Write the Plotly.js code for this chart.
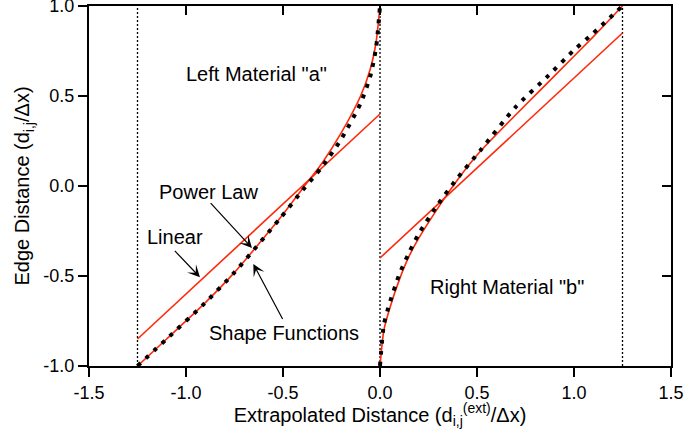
<!DOCTYPE html>
<html>
<head>
<meta charset="utf-8">
<script src="https://cdn.plot.ly/plotly-3.0.1.min.js"></script>
<style>html,body{margin:0;padding:0;background:#fff;}#chart{width:685px;height:429px;}</style>
</head>
<body>
<div id="chart"></div>
<script>
// ---- data ----
const leftLinearX = [-1.25, 0];
const leftLinearY = [-0.85, 0.40];
const rightLinearX = [0, 1.25];
const rightLinearY = [-0.40, 0.85];

const leftPowerX = [-1.25, -1.1, -0.907, -0.75, -0.515, -0.4, -0.3, -0.2, -0.1, -0.05, -0.02, 0];
const leftPowerY = [-1.0, -0.85, -0.655, -0.48, -0.178, -0.015, 0.125, 0.295, 0.50, 0.65, 0.80, 1.0];
const rightPowerX = [0, 0.02, 0.05, 0.1, 0.15, 0.2, 0.3, 0.4, 0.515, 0.75, 0.907, 1.1, 1.25];
const rightPowerY = [-1.0, -0.80, -0.68, -0.52, -0.39, -0.29, -0.12, 0.035, 0.19, 0.45, 0.62, 0.83, 1.0];

const leftShapeX = [-1.25, -1.1, -0.907, -0.75, -0.515, -0.4, -0.3, -0.2, -0.1, -0.05, -0.02, 0];
const leftShapeY = [-1.0, -0.85, -0.655, -0.48, -0.18, -0.025, 0.105, 0.26, 0.46, 0.61, 0.77, 1.0];
const rightShapeX = [0, 0.02, 0.05, 0.1, 0.15, 0.2, 0.3, 0.4, 0.515, 0.7, 0.86, 1.0, 1.1, 1.25];
const rightShapeY = [-1.0, -0.77, -0.65, -0.49, -0.37, -0.265, -0.10, 0.045, 0.195, 0.44, 0.605, 0.755, 0.85, 1.0];

const boundaries = [-1.25, 0, 1.25];

const xTickVals = [-1.5, -1.0, -0.5, 0.0, 0.5, 1.0, 1.5];
const xTickText = ['-1.5', '-1.0', '-0.5', '0.0', '0.5', '1.0', '1.5'];
const yTickVals = [-1.0, -0.5, 0.0, 0.5, 1.0];
const yTickText = ['-1.0', '-0.5', '0.0', '0.5', '1.0'];

const labels = [
  {text: 'Left Material "a"', x: -0.636, y: 0.622},
  {text: 'Power Law', x: -0.882, y: -0.032},
  {text: 'Linear', x: -1.057, y: -0.283},
  {text: 'Shape Functions', x: -0.495, y: -0.818},
  {text: 'Right Material "b"', x: 0.653, y: -0.561}
];
const arrows = [
  {tailX: -0.880, tailY: -0.087, tipX: -0.660, tipY: -0.344},
  {tailX: -1.065, tailY: -0.352, tipX: -0.928, tipY: -0.507},
  {tailX: -0.498, tailY: -0.747, tipX: -0.653, tipY: -0.433}
];

// ---- styles ----
const RED = 'rgb(255,40,10)';
const FONT = 'Liberation Sans, Arial, Helvetica, sans-serif';

const traces = [];
boundaries.forEach(b => traces.push({
  x: [b, b], y: [-1, 1], mode: 'lines', hoverinfo: 'skip', showlegend: false,
  line: {color: 'black', width: 1.3, dash: '2px,2px'}
}));
const redLine = {color: RED, width: 1.6, shape: 'spline', smoothing: 0.6};
traces.push({x: leftLinearX, y: leftLinearY, mode: 'lines', showlegend: false, line: {color: RED, width: 1.6}});
traces.push({x: rightLinearX, y: rightLinearY, mode: 'lines', showlegend: false, line: {color: RED, width: 1.6}});
traces.push({x: leftPowerX, y: leftPowerY, mode: 'lines', showlegend: false, line: redLine});
traces.push({x: rightPowerX, y: rightPowerY, mode: 'lines', showlegend: false, line: redLine});
const dotLine = {color: 'black', width: 4, dash: '4px,7px', shape: 'spline', smoothing: 0.6};
traces.push({x: leftShapeX, y: leftShapeY, mode: 'lines', showlegend: false, line: dotLine});
traces.push({x: rightShapeX, y: rightShapeY, mode: 'lines', showlegend: false, line: dotLine});
// dummy trace for the mirrored (inside-tick) axes
traces.push({x: [null], y: [null], xaxis: 'x2', yaxis: 'y2', mode: 'lines', showlegend: false, hoverinfo: 'skip'});

const annotations = labels.map(l => ({
  text: l.text, x: l.x, y: l.y, xref: 'x', yref: 'y', showarrow: false,
  font: {family: FONT, size: 20, color: 'black'}
}));
arrows.forEach(a => annotations.push({
  text: '', x: a.tipX, y: a.tipY, ax: a.tailX, ay: a.tailY, axref: 'x', ayref: 'y',
  xref: 'x', yref: 'y', showarrow: true, arrowhead: 3, arrowsize: 1.7, arrowwidth: 1.2,
  arrowcolor: 'black', standoff: 0
}));

const baseAxis = {
  showgrid: false, zeroline: false, showline: true, linecolor: 'black', linewidth: 2,
  ticklen: 9, tickwidth: 2, tickcolor: 'black', fixedrange: true
};

const layout = {
  width: 685, height: 429,
  margin: {l: 89, r: 14, t: 6, b: 63},
  paper_bgcolor: 'white', plot_bgcolor: 'white',
  font: {family: FONT, size: 18, color: 'black'},
  showlegend: false,
  xaxis: Object.assign({}, baseAxis, {
    range: [-1.5, 1.5], ticks: 'outside', tickvals: xTickVals, ticktext: xTickText,
    tickfont: {size: 18}, ticklabeloverflow: 'allow',
    title: {text: 'Extrapolated Distance (d<sub>i,j</sub><sup>(ext)</sup>/Δx)', font: {size: 20}, standoff: 11}
  }),
  yaxis: Object.assign({}, baseAxis, {
    range: [-1, 1], ticks: 'outside', tickvals: yTickVals, ticktext: yTickText,
    tickfont: {size: 18}, ticklabeloverflow: 'allow',
    title: {text: 'Edge Distance (d<sub>i,j</sub>/Δx)', font: {size: 20}, standoff: 8}
  }),
  xaxis2: Object.assign({}, baseAxis, {
    range: [-1.5, 1.5], overlaying: 'x', side: 'top', anchor: 'y2', ticks: 'inside',
    tickvals: xTickVals, showticklabels: false
  }),
  yaxis2: Object.assign({}, baseAxis, {
    range: [-1, 1], overlaying: 'y', side: 'right', anchor: 'x2', ticks: 'inside',
    tickvals: yTickVals, showticklabels: false
  }),
  annotations: annotations
};

Plotly.newPlot('chart', traces, layout, {staticPlot: true, displayModeBar: false});
</script>
</body>
</html>
